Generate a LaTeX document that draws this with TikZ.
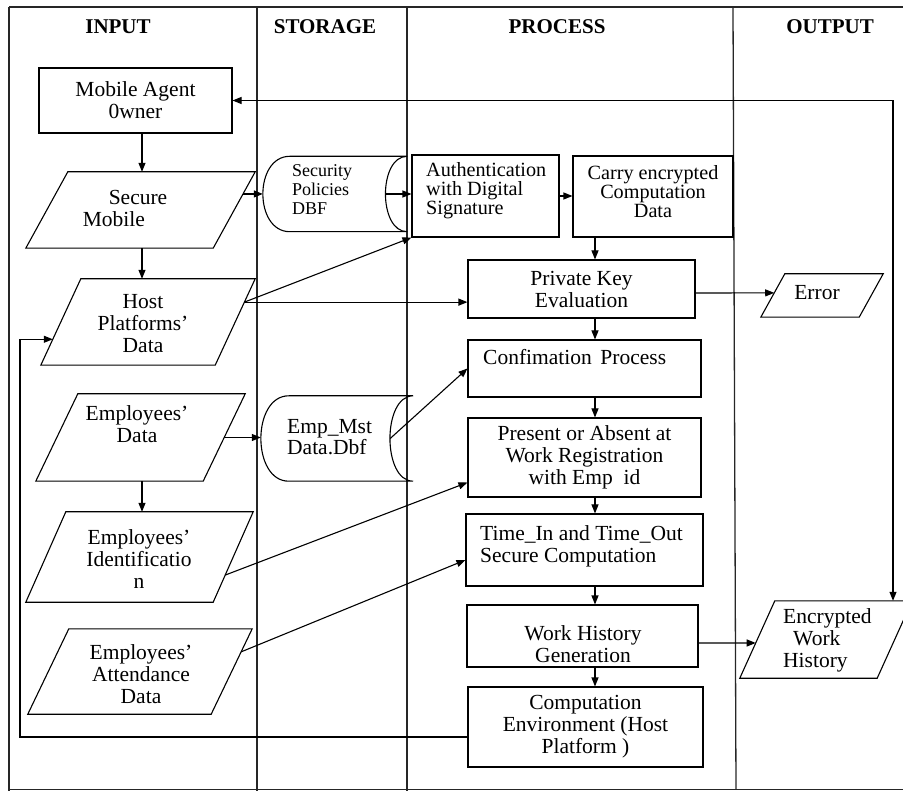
\documentclass[tikz,border=0pt]{standalone}
\usepackage{fontspec}
\setmainfont{Liberation Serif}
\usetikzlibrary{arrows.meta,calc}

\newcommand\bigtxt{\fontsize{21.5}{22}\selectfont}
\newcommand\midtxt{\fontsize{20.2}{19}\selectfont}
\newcommand\smalltxt{\fontsize{18}{19}\selectfont}

% input/output symbol: parallelogram inside the bounding box of a node
\newcommand\ioframe[2]{\draw[shapeline] (#1.south west) -- ([xshift=-#2]#1.south east) -- (#1.north east) -- ([xshift=#2]#1.north west) -- cycle;}
% stored-data symbol: rounded left end, concave right end
\newcommand\storeframe[3]{\draw[shapeline] ([xshift=#2]#1.north west) -- (#1.north east)
  .. controls ([xshift=-#3]#1.north east) and ([xshift=-#3]#1.south east) .. (#1.south east)
  -- ([xshift=#2]#1.south west)
  .. controls ([xshift=-0.33*#2]#1.south west) and ([xshift=-0.33*#2]#1.north west) .. ([xshift=#2]#1.north west) -- cycle;}

\tikzset{
  shapeline/.style={line width=1.1pt},
  frame/.style={line width=1.3pt, black!85},
  box/.style={draw, line width=1.1pt, rectangle, inner sep=0pt, align=center, font=\bigtxt},
  io/.style={draw=none, rectangle, inner sep=0pt},
  txt/.style={inner sep=0pt, align=center, font=\bigtxt},
  head/.style={inner sep=0pt, font=\fontsize{21}{22}\selectfont\bfseries},
  arr/.style={line width=1.1pt, -{Triangle[length=9pt,width=7pt]}},
  arrboth/.style={line width=1.1pt, {Triangle[length=9pt,width=7pt]}-{Triangle[length=9pt,width=7pt]}},
}

\begin{document}
\begin{tikzpicture}[x=1pt,y=-1pt]
\useasboundingbox (0,0) rectangle (903,791);

% swim-lane frame
\draw[frame] (9,7) -- (915,7);
\draw[frame] (9,7) -- (9,795);
\draw[frame] (9,789.5) -- (915,789.5);
\draw[frame] (257,7) -- (257,791);
\draw[frame] (407,7) -- (407,791);
\draw[frame] (733,7) -- (736,789.5);

\node[head] (hIn)  at (118,27) {INPUT};
\node[head] (hSt)  at (325,27) {STORAGE};
\node[head] (hPr)  at (557,27) {PROCESS};
\node[head] (hOut) at (830,27) {OUTPUT};

% ---- input lane
\node[box, minimum width=193pt, minimum height=65pt] (ma) at (135.5,100.5) {Mobile Agent\\0wner};

\node[io, minimum width=229pt, minimum height=76pt] (sm) at (140.5,210) {};
\ioframe{sm}{42pt}
\node[txt, align=left] (smT) at (125,208) {\hspace*{26pt}Secure\\Mobile};

\node[io, minimum width=214pt, minimum height=86pt] (host) at (148,322) {};
\ioframe{host}{40pt}
\node[txt] (hostT) at (143,324) {Host\\Platforms'\\Data};

\node[io, minimum width=209pt, minimum height=87pt] (ed) at (140.5,437.5) {};
\ioframe{ed}{42pt}
\node[txt] (edT) at (137,424) {Employees'\\Data};

\node[io, minimum width=227pt, minimum height=90pt] (eid) at (139.5,557) {};
\ioframe{eid}{40pt}
\node[txt] (eidT) at (139,559) {Employees'\\Identificatio\\n};

\node[io, minimum width=224pt, minimum height=85pt] (att) at (140,671.5) {};
\ioframe{att}{41pt}
\node[txt] (attT) at (141,674) {Employees'\\Attendance\\Data};

% ---- storage lane
\node[io, minimum width=144pt, minimum height=75pt] (sp) at (335,194) {};
\storeframe{sp}{27pt}{29pt}
\node[txt, font=\smalltxt, align=left, anchor=west] (spT) at (292,190) {Security\\Policies\\DBF};

\node[io, minimum width=152pt, minimum height=85pt] (em) at (337,438.5) {};
\storeframe{em}{28pt}{31pt}
\node[txt, font=\fontsize{21.5}{20.5}\selectfont, align=left, anchor=west] (emT) at (287,437) {Emp\_Mst\\Data.Dbf};

% ---- process lane
\node[box, minimum width=147pt, minimum height=82pt] (auth) at (485.5,196) {};
\node[txt, font=\midtxt, align=left, anchor=west] (authT) at (426,191) {Authentication\\with Digital\\Signature};

\node[box, minimum width=160pt, minimum height=81pt] (carry) at (653,196.5) {};
\node[txt, font=\midtxt] (carryT) at (653,192) {Carry encrypted\\Computation\\Data};

\node[box, minimum width=227pt, minimum height=58pt] (pk) at (581.5,289) {Private Key\\Evaluation};

\node[box, minimum width=233pt, minimum height=57pt] (conf) at (584.5,368.5) {};
\node[txt, anchor=west] (confT) at (483,357) {Confimation\hspace{0.4em}Process};

\node[box, minimum width=233pt, minimum height=79pt] (pres) at (584.5,457.5) {Present or Absent at\\Work Registration\\with Emp\enspace id};

\node[box, minimum width=237pt, minimum height=72pt] (time) at (584.5,550) {};
\node[txt, align=left, anchor=west] (timeT) at (480,546) {Time\_In and Time\_Out\\Secure Computation};

\node[box, minimum width=231pt, minimum height=62pt] (wh) at (582.5,636) {};
\node[txt] (whT) at (583,644) {Work History\\Generation};

\node[box, minimum width=235pt, minimum height=80pt] (comp) at (585.5,727) {Computation\\Environment (Host\\Platform )};

% ---- output lane
\node[io, minimum width=122pt, minimum height=43pt] (err) at (822,295.5) {};
\ioframe{err}{24pt}
\node[txt] (errT) at (817,293) {Error};

\node[io, minimum width=172pt, minimum height=77pt] (enc) at (826,639.5) {};
\ioframe{enc}{35pt}
\node[txt, align=left, anchor=west] (encT) at (783,640) {Encrypted\\\hspace*{10pt}Work\\History};

% ---- connectors
\coordinate (colI) at (142,0);
\coordinate (spine) at (595,0);
\coordinate (loopR) at (893,0);
\coordinate (loopL) at (20,0);

\draw[arr] (ma.south -| colI) -- (sm.north -| colI);
\draw[arr] (sm.south -| colI) -- (host.north -| colI);
\draw[arr] (ed.south -| colI) -- (eid.north -| colI);

\coordinate (smE) at ($(sm.north east)!0.29!([xshift=-42pt]sm.south east)$);
\draw[arr] (smE) -- (smE -| sp.west);
\coordinate (spIn) at ([xshift=-22pt]sp.east);
\draw[arr] (spIn) -- (spIn -| auth.west);
\draw[arr] (auth.east) -- (auth.east -| carry.west);

\draw[arr] (carry.south -| spine) -- (pk.north -| spine);
\draw[arr] (pk.south -| spine) -- (conf.north -| spine);
\draw[arr] (conf.south -| spine) -- (pres.north -| spine);
\draw[arr] (pres.south -| spine) -- (time.north -| spine);
\draw[arr] (time.south -| spine) -- (wh.north -| spine);
\draw[arr] (wh.south -| spine) -- (comp.north -| spine);

\coordinate (hostE) at ($(host.north east)!0.27!([xshift=-40pt]host.south east)$);
\draw[arr] (hostE) -- (auth.south west);
\draw[arr] (hostE) -- (hostE -| pk.west);

\coordinate (pkE) at ([yshift=-4pt]pk.east);
\coordinate (errW) at ($([xshift=24pt]err.north west)!0.44!(err.south west)$);
\draw[arr] (pkE) -- (errW);

\coordinate (edE) at ($(ed.north east)!0.5!([xshift=-42pt]ed.south east)$);
\draw[arr] (edE) -- (edE -| em.west);
\draw[arr] ([xshift=-23pt]em.east) -- (conf.west);

\coordinate (eidE) at ($(eid.north east)!0.7!([xshift=-40pt]eid.south east)$);
\draw[arr] (eidE) -- ([yshift=-25pt]pres.west);

\coordinate (attE) at ($(att.north east)!0.27!([xshift=-41pt]att.south east)$);
\draw[arr] (attE) -- ([yshift=-10pt]time.west);

\coordinate (whE) at ([yshift=-7pt]wh.east);
\coordinate (encW) at ($([xshift=35pt]enc.north west)!0.545!(enc.south west)$);
\draw[arr] (whE) -- (encW);

\draw[arrboth] (ma.east) -- (ma.east -| loopR) -- (loopR |- enc.north);

\coordinate (compW) at ([yshift=-10pt]comp.west);
\coordinate (hostW) at ($([xshift=40pt]host.north west)!0.7!(host.south west)$);
\draw[arr] (compW) -- (compW -| loopL) -- (loopL |- hostW) -- (hostW);
\end{tikzpicture}
\end{document}
